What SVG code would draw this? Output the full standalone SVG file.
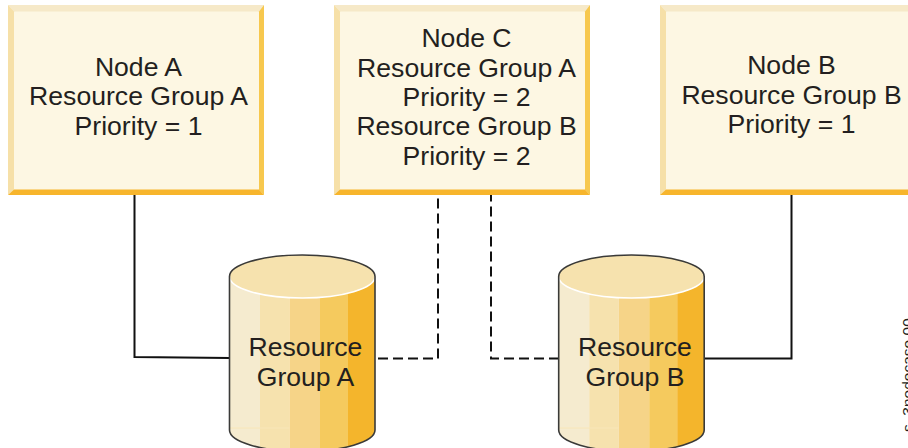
<svg xmlns="http://www.w3.org/2000/svg" width="908" height="448" viewBox="0 0 908 448">
<style>
text{font-family:"Liberation Sans",Arial,sans-serif;font-size:26.6px;fill:#231f20;text-anchor:middle}
.c{fill:none;stroke:#111;stroke-width:2}
.d{stroke-dasharray:10 5}
.t{fill:#f6e9c8}.l{fill:#f6e0a8}.r{fill:#f7c84e}.b{fill:#f7b52c}.f{fill:#fdf7e3}
.o{fill:none;stroke:#3a3a38;stroke-width:1.6}
</style>
<defs>
<g id="box">
<rect class="f" width="256" height="190"/>
<polygon class="t" points="0,0 256,0 251,6.500 6,6.500"/>
<polygon class="l" points="0,0 6,6.500 6,184.500 0,190"/>
<polygon class="r" points="256,0 256,190 251,184.500 251,6.500"/>
<polygon class="b" points="0,190 256,190 251,184.500 6,184.500"/>
</g>
<g id="boxWide">
<rect class="f" width="260" height="190"/>
<polygon class="t" points="0,0 260,0 260,6.500 6,6.500"/>
<polygon class="l" points="0,0 6,6.500 6,184.500 0,190"/>
<polygon class="b" points="0,190 260,190 260,184.500 6,184.500"/>
</g>
<g id="cyl">
<clipPath id="cc"><path d="M0,20.500 A72.750,21.500 0 0 1 145.500,20.500 V174 A72.750,21.500 0 0 1 0,174 Z"/></clipPath>
<g clip-path="url(#cc)">
<rect x="0" y="0" width="30.500" height="200" fill="#f5ebcf"/>
<rect x="30.500" y="0" width="29.500" height="200" fill="#f6e2ae"/>
<rect x="60" y="0" width="30.500" height="200" fill="#f6d488"/>
<rect x="90.500" y="0" width="28" height="200" fill="#f5ca5e"/>
<rect x="118.500" y="0" width="27" height="200" fill="#f4b52c"/>
<path d="M0,172 H60" stroke="#f8e6b8" stroke-width="1" fill="none"/>
</g>
<ellipse cx="72.750" cy="20.500" rx="72.750" ry="21.500" fill="#f6e2ae"/>
<path d="M0,20.500 A72.750,21.500 0 0 0 145.500,20.500" fill="none" stroke="#fff" stroke-width="1.600"/>
<path class="o" d="M0,20.500 A72.750,21.500 0 0 1 145.500,20.500 V174 A72.750,21.500 0 0 1 0,174 Z"/>
</g>
</defs>
<g id="connectors">
<path class="c" d="M134.500,195 V357 L230,358"/>
<path class="c d" d="M378,358.500 H438 V195"/>
<path class="c d" d="M559,358.500 H491 V195"/>
<path class="c" d="M791.500,195 V358.500 H704"/>
</g>
<g id="nodeA"><use href="#box" x="8" y="5"/>
<text x="138.500" y="75.500">Node A</text><text x="138.500" y="105">Resource Group A</text><text x="138.500" y="134.500">Priority = 1</text></g>
<g id="nodeC"><use href="#box" x="334" y="5"/>
<text x="466.500" y="47">Node C</text><text x="466.500" y="77">Resource Group A</text><text x="466.500" y="106">Priority = 2</text><text x="466.500" y="135">Resource Group B</text><text x="466.500" y="164.500">Priority = 2</text></g>
<g id="nodeB"><use href="#boxWide" x="660" y="5"/>
<text x="791.500" y="74">Node B</text><text x="791.500" y="103.500">Resource Group B</text><text x="791.500" y="133">Priority = 1</text></g>
<g id="resourceA"><use href="#cyl" x="229.500" y="256"/>
<text x="305.500" y="356">Resource</text><text x="305.500" y="385.500">Group A</text></g>
<g id="resourceB"><use href="#cyl" x="558.700" y="256"/>
<text x="635" y="356">Resource</text><text x="635" y="385.500">Group B</text></g>
<text transform="translate(913,432) rotate(-90)" style="font-size:15.500px;text-anchor:start;white-space:pre">s  3nodecase 00</text>
</svg>
